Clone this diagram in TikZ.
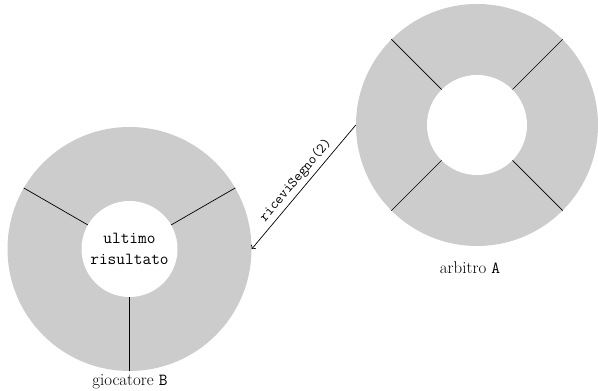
\documentclass[tikz,border=0pt]{standalone}
\usetikzlibrary{arrows.meta}
\begin{document}
\tikzset{
  ring/.style={circle, fill=black!20, inner sep=0pt},
  hole/.style={circle, fill=white, inner sep=0pt},
  divider/.style={line width=0.7pt},
  lbl/.style={font=\fontsize{16.9}{20.3}\selectfont},
  msg/.style={font=\ttfamily\fontsize{14.4}{17}\selectfont},
}
\begin{tikzpicture}[x=1pt,y=1pt]
\useasboundingbox (0,0) rectangle (598,391);
% giocatore B
\node[ring, minimum size=244pt] (G) at (129.5,142) {};
\node[hole, minimum size=96pt, align=center, font=\ttfamily\fontsize{16.9}{20.3}\selectfont] (Gc) at (G.center) {ultimo\\risultato};
\foreach \a in {30,150,270} \draw[divider] (Gc.\a) -- (G.\a);
\node[lbl] (Glab) at (130,9) {giocatore \texttt{B}};
% arbitro A
\node[ring, minimum size=242pt] (A) at (477,266) {};
\node[hole, minimum size=100pt] (Ac) at (A.center) {};
\foreach \a in {45,135,225,315} \draw[divider] (Ac.\a) -- (A.\a);
\node[lbl] (Alab) at (470,123) {arbitro \texttt{A}};
% message
\draw[divider,<-] (G.east) -- node[msg, sloped, above] {riceviSegno(2)} (A.west);
\end{tikzpicture}
\end{document}
